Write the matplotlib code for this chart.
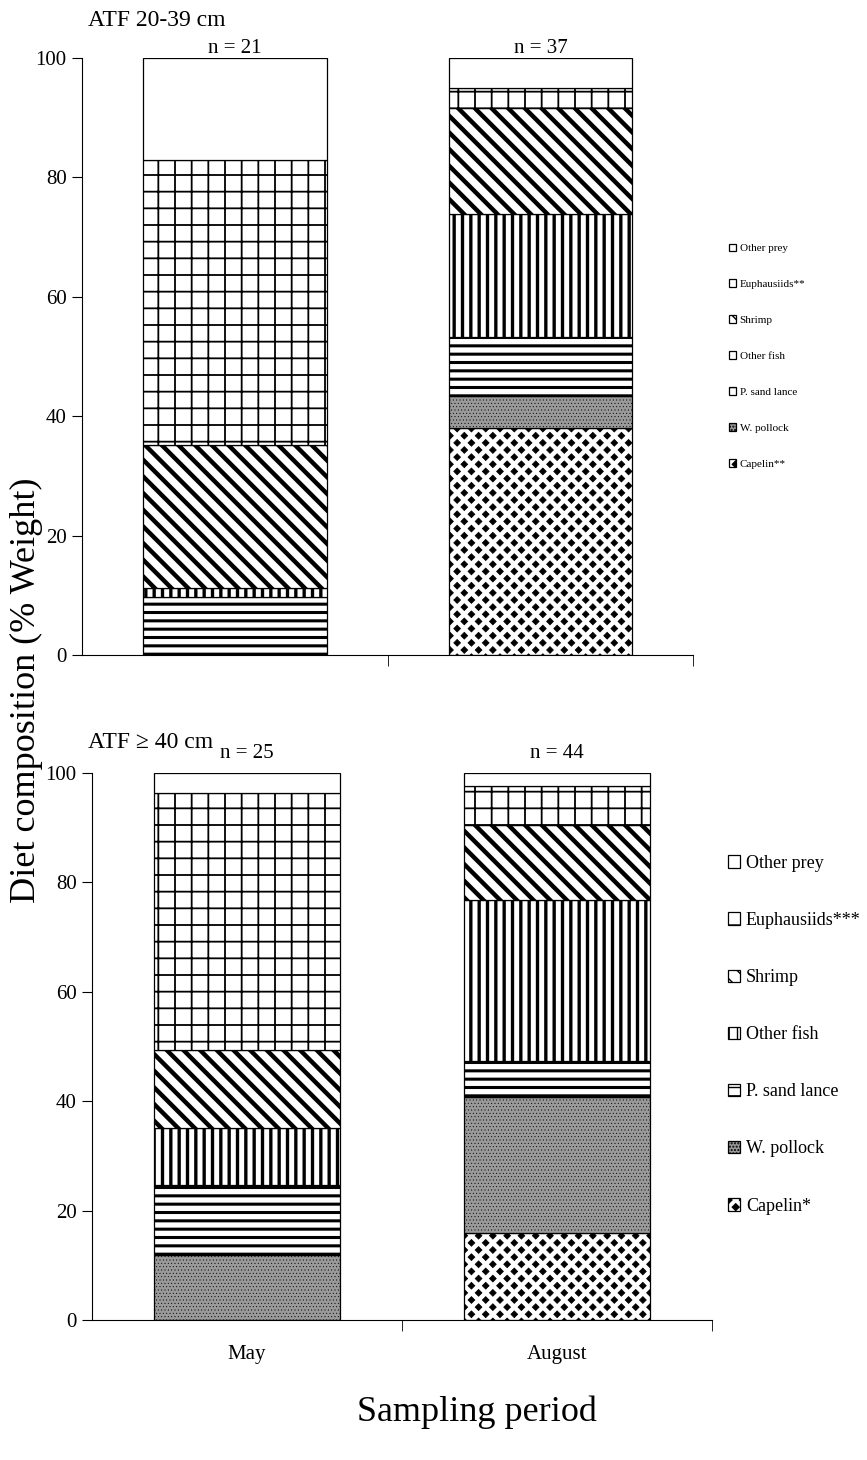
import numpy as np
import matplotlib
matplotlib.use("Agg")
import matplotlib.pyplot as plt
import matplotlib.hatch as mhatch
from matplotlib.path import Path

plt.rcParams['font.family'] = ['Liberation Serif', 'DejaVu Serif']

# prey groups, bottom of stack first
prey = ['Capelin', 'W. pollock', 'P. sand lance', 'Other fish', 'Shrimp', 'Euphausiids', 'Other prey']
months = ['May', 'August']

# ATF 20-39 cm, % weight
small_may = [0.0, 0.0, 9.7, 1.5, 24.0, 47.7, 17.1]
small_aug = [38.0, 5.4, 9.8, 20.7, 17.8, 3.3, 5.0]
small_n = [21, 37]
small_labels = ['Capelin**', 'W. pollock', 'P. sand lance', 'Other fish', 'Shrimp', 'Euphausiids**', 'Other prey']

# ATF >= 40 cm, % weight
large_may = [0.0, 11.9, 12.7, 10.5, 14.3, 46.9, 3.7]
large_aug = [15.9, 24.9, 6.6, 29.3, 13.7, 7.2, 2.4]
large_n = [25, 44]
large_labels = ['Capelin*', 'W. pollock', 'P. sand lance', 'Other fish', 'Shrimp', 'Euphausiids***', 'Other prey']


class Diamonds(mhatch.HatchPatternBase):
    # checkerboard of filled diamonds, drawn for '*'
    def __init__(self, hatch, density):
        n = hatch.count('*') * 7
        self.centres = []
        if n:
            self.centres = [(i / n, j / n) for i in range(n + 1) for j in range(n + 1)
                            if (i + j) % 2 == 0]
            self.half = 0.47 / n
        self.num_vertices = len(self.centres) * 5

    def set_vertices_and_codes(self, vertices, codes):
        unit = np.array([[0, -1], [1, 0], [0, 1], [-1, 0], [0, -1]], float)
        for k, (cx, cy) in enumerate(self.centres):
            vertices[k * 5:(k + 1) * 5] = unit * self.half + (cx, cy)
            codes[k * 5:(k + 1) * 5] = [Path.MOVETO, Path.LINETO, Path.LINETO,
                                        Path.LINETO, Path.CLOSEPOLY]


mhatch._hatch_types = [t for t in mhatch._hatch_types if t is not mhatch.Stars] + [Diamonds]

# (facecolor, hatch, hatch linewidth) per prey group
styles = [
    ('white', '**', 0.6),
    ('#9a9a9a', '.....', 0.3),
    ('white', '--', 2.2),
    ('white', '||', 2.4),
    ('white', '\\\\', 3.2),
    ('white', '+', 1.3),
    ('white', '', 1.0),
]


def panel(ax, may, aug, nums, labels, n_offset, legend_font, legend_anchor, spacing, show_xlabels):
    x = np.arange(len(months))
    bottom = np.zeros(len(months))
    handles = []
    for i, name in enumerate(prey):
        vals = np.array([may[i], aug[i]])
        fc, hatch, hlw = styles[i]
        bars = ax.bar(x, vals, 0.6, bottom=bottom, color=fc, hatch=hatch,
                      edgecolor='black', linewidth=0.9, label=labels[i])
        for b in bars:
            if hasattr(b, 'set_hatch_linewidth'):
                b.set_hatch_linewidth(hlw)
        handles.append(bars)
        bottom += vals
    for xi, n in zip(x, nums):
        ax.text(xi, 100 + n_offset, 'n = %d' % n, ha='center', va='bottom', fontsize=15)
    ax.set_xlim(-0.5, 1.5)
    ax.set_ylim(0, 100)
    ax.set_yticks(np.arange(0, 101, 20))
    ax.spines['top'].set_visible(False)
    ax.spines['right'].set_visible(False)
    ax.tick_params(axis='y', direction='out', length=7, labelsize=15, pad=4)
    ax.set_xticks(x)
    ax.set_xticklabels(months if show_xlabels else ['', ''], fontsize=15)
    ax.tick_params(axis='x', which='major', length=0, pad=18)
    ax.set_xticks([0.5, 1.5], minor=True)
    ax.tick_params(axis='x', which='minor', direction='out', length=8)
    leg = ax.legend(handles[::-1], labels[::-1], loc='upper left',
                    bbox_to_anchor=legend_anchor, bbox_transform=ax.figure.transFigure,
                    frameon=False, fontsize=legend_font, labelspacing=spacing,
                    handlelength=0.7, handleheight=0.7, handletextpad=0.3, borderpad=0)
    return leg


fig = plt.figure(figsize=(8.67, 14.6), dpi=100)
ax1 = fig.add_axes([0.0946, 0.5514, 0.705, 0.4089])
ax2 = fig.add_axes([0.106, 0.0959, 0.715, 0.3747])

panel(ax1, small_may, small_aug, small_n, small_labels, 0.0, 8, (0.834, 1 - 238 / 1460), 2.35, False)
panel(ax2, large_may, large_aug, large_n, large_labels, 1.8, 13, (0.829, 1 - 846 / 1460), 2.22, True)

fig.text(0.101, 1 - 20 / 1460, 'ATF 20-39 cm', fontsize=17, ha='left', va='center')
fig.text(0.101, 1 - 743 / 1460, 'ATF \u2265 40 cm', fontsize=17, ha='left', va='center')
fig.text(0.031, 1 - 690 / 1460, 'Diet composition (% Weight)', fontsize=26,
         rotation=90, ha='center', va='center')
fig.text(0.55, 1 - 1412 / 1460, 'Sampling period', fontsize=26, ha='center', va='center')

fig.savefig('out.png', dpi=100)
